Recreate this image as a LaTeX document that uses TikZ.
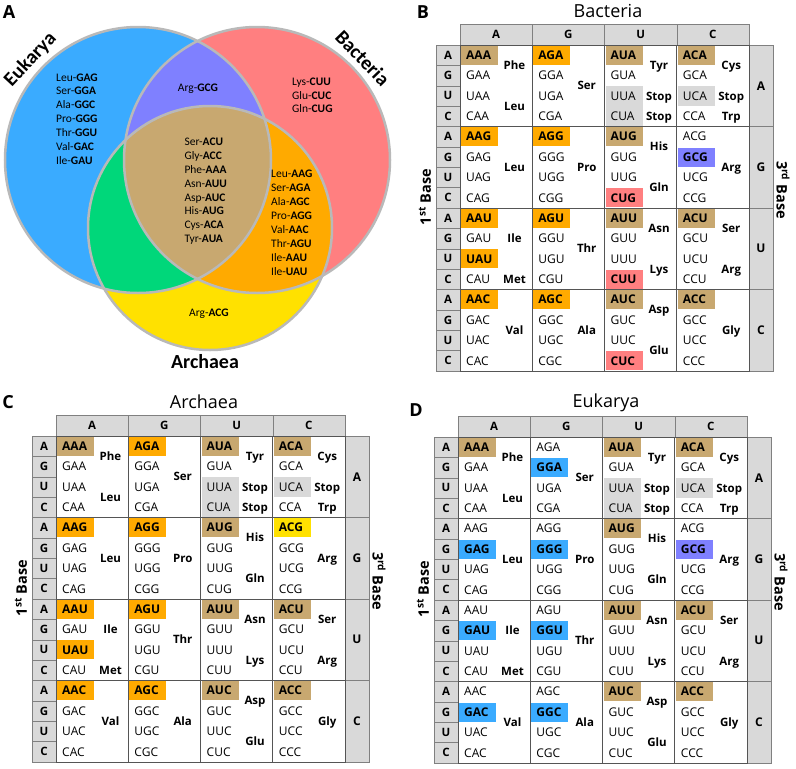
\documentclass[tikz,border=0pt]{standalone}
\usepackage{fontspec}
\setmainfont{Open Sans}
\newfontfamily\vennfont{Carlito}
\definecolor{vblue}{HTML}{3AABFF}
\definecolor{vred}{HTML}{FF7F80}
\definecolor{vyellow}{HTML}{FFE100}
\definecolor{vpurple}{HTML}{7F80FF}
\definecolor{vgreen}{HTML}{00D77A}
\definecolor{vorange}{HTML}{FFAA00}
\definecolor{vtan}{HTML}{C8A870}
\definecolor{cellgray}{HTML}{D9D9D9}
\definecolor{linegray}{HTML}{555555}
\newcommand\cdnfont{\fontsize{12}{14}\selectfont}
\newcommand\cw{72.25}
\newcommand\rh{20.375}
\tikzset{
  vring/.style={draw=gray!55, line width=2.5pt},
  venntxt/.style={inner sep=0pt, text height=7.4pt, text depth=0pt, font={\vennfont\fontsize{11.5}{13}\selectfont}},
  vennlabel/.style={inner sep=0pt, font={\vennfont\fontsize{20}{22}\selectfont\bfseries}},
  panel/.style={inner sep=0pt, font={\fontsize{18}{20}\selectfont\bfseries}},
  tabtitle/.style={inner sep=0pt, font={\fontsize{18}{20}\selectfont}},
  headcell/.style={draw=gray, fill=cellgray, minimum width=72.25pt, minimum height=21pt, inner sep=0pt, font={\fontsize{11.5}{13}\selectfont\bfseries}},
  thirdcell/.style={draw=gray, fill=cellgray, minimum width=24pt, minimum height=81.5pt, inner sep=0pt, font={\fontsize{12}{14}\selectfont\bfseries}},
  firstcell/.style={draw=gray, fill=cellgray, minimum width=24pt, minimum height=20.375pt, inner sep=0pt, font={\fontsize{11.5}{13}\selectfont\bfseries}},
  codon/.style={anchor=west, inner sep=0pt, text height=8.6pt, text depth=0pt, font=\cdnfont},
  hl/.style={anchor=west, text width=27pt, inner xsep=5pt, inner ysep=0pt, minimum height=19pt, align=left, text height=8.6pt, text depth=0pt, font=\cdnfont\bfseries},
  amino/.style={inner sep=0pt, text height=8.2pt, text depth=0pt, font={\fontsize{11.5}{13}\selectfont\bfseries}},
  stopbox/.style={fill=cellgray},
  gridline/.style={draw=linegray, line width=0.9pt},
  baselabel/.style={inner sep=0pt, font={\fontsize{14.5}{16}\selectfont\bfseries}}
}
% one codon table: #1 shift, #2 title, #3 name prefix, #4 highlighted codons
\newcommand\codontable[4]{%
\begin{scope}[shift={#1}]
  \node[tabtitle] (#3-title) at (148,-34) {#2};
  % 2nd base header
  \foreach \s [count=\i from 0] in {A,G,U,C}
    \node[headcell] (#3-head-\s) at ({(\i+0.5)*\cw}, -10.5) {\s};
  % 3rd base column
  \foreach \t [count=\k from 0] in {A,G,U,C}
    \node[thirdcell] (#3-third-\t) at (301, {(\k+0.5)*4*\rh}) {\t};
  % stop codons
  \fill[stopbox] ({2*\cw+1}, {2*\rh+0.5}) rectangle ({2*\cw+38}, {4*\rh-0.5});
  \fill[stopbox] ({3*\cw+1}, {2*\rh+0.5}) rectangle ({3*\cw+38}, {3*\rh-0.5});
  % highlighted codons
  \foreach \c/\col in {#4}
    \expandafter\xdef\csname hlcol#3\c\endcsname{\col};
  % codons
  \foreach \t [count=\k from 0] in {A,G,U,C}
    \foreach \f [count=\j from 0] in {A,G,U,C} {
      \node[firstcell] (#3-first-\f\t) at (-12, {(\k*4+\j+0.5)*\rh}) {\f};
      \foreach \s [count=\i from 0] in {A,G,U,C} {
        \ifcsname hlcol#3\f\s\t\endcsname
          \edef\hlc{\csname hlcol#3\f\s\t\endcsname}
          \node[hl, fill=\hlc] (#3-\f\s\t) at ({\i*\cw+1}, {(\k*4+\j+0.5)*\rh}) {\f\s\t};
        \else
          \node[codon] (#3-\f\s\t) at ({\i*\cw+6}, {(\k*4+\j+0.5)*\rh}) {\f\s\t};
        \fi
      }
    }
  % grid
  \draw[gridline] (0,0) rectangle ({4*\cw}, {16*\rh});
  \foreach \i in {1,2,3} {
    \draw[gridline] ({\i*\cw},0) -- ({\i*\cw},{16*\rh});
    \draw[gridline] (0,{\i*4*\rh}) -- ({4*\cw},{\i*4*\rh});
  }
  % amino acids
  \foreach \i/\k/\p/\acid [count=\n] in {0/0/1/Phe, 0/0/3/Leu, 1/0/2/Ser, 2/0/1/Tyr, 2/0/2.5/Stop, 2/0/3.5/Stop, 3/0/1/Cys, 3/0/2.5/Stop, 3/0/3.5/Trp,
      0/1/2/Leu, 1/1/2/Pro, 2/1/1/His, 2/1/3/Gln, 3/1/2/Arg,
      0/2/1.5/Ile, 0/2/3.5/Met, 1/2/2/Thr, 2/2/1/Asn, 2/2/3/Lys, 3/2/1/Ser, 3/2/3/Arg,
      0/3/2/Val, 1/3/2/Ala, 2/3/1/Asp, 2/3/3/Glu, 3/3/2/Gly}
    \node[amino] (#3-aa-\n) at ({\i*\cw+54.5}, {(\k*4+\p)*\rh}) {\acid};
  \node[baselabel, rotate=90] (#3-firstlabel) at (-35,152) {1\textsuperscript{st} Base};
  \node[baselabel, rotate=-90] (#3-thirdlabel) at (323,145) {3\textsuperscript{rd} Base};
\end{scope}}

\begin{document}
\begin{tikzpicture}[x=1pt, y=-1pt]
\useasboundingbox (0,0) rectangle (796,769);
% A: Venn diagram
\node[panel] (A) at (9,12) {A};
\coordinate (eukc) at (138,160);
\coordinate (bacc) at (257,160);
\coordinate (arcc) at (210,228);
\fill[vblue] (eukc) circle[radius=133pt];
\fill[vred] (bacc) circle[radius=133pt];
\fill[vyellow] (arcc) circle[radius=122pt];
\begin{scope}
  \clip (eukc) circle[radius=133pt];
  \fill[vpurple] (bacc) circle[radius=133pt];
  \fill[vgreen] (arcc) circle[radius=122pt];
\end{scope}
\begin{scope}
  \clip (bacc) circle[radius=133pt];
  \fill[vorange] (arcc) circle[radius=122pt];
  \clip (eukc) circle[radius=133pt];
  \fill[vtan] (arcc) circle[radius=122pt];
\end{scope}
\draw[vring] (eukc) circle[radius=133pt];
\draw[vring] (bacc) circle[radius=133pt];
\draw[vring] (arcc) circle[radius=122pt];
\node[vennlabel, rotate=47] (euk-label) at (30.5,60) {Eukarya};
\node[vennlabel, rotate=-46] (bac-label) at (362.7,58) {Bacteria};
\node[vennlabel] (arc-label) at (205,362) {Archaea};
\foreach \acid/\trip [count=\n from 0] in {Leu/GAG, Ser/GGA, Ala/GGC, Pro/GGG, Thr/GGU, Val/GAC, Ile/GAU}
  \node[venntxt, anchor=west] (euk-\n) at (56, {77.3+\n*13.9}) {\acid-\textbf{\trip}};
\foreach \acid/\trip [count=\n from 0] in {Lys/CUU, Glu/CUC, Gln/CUG}
  \node[venntxt, anchor=west] (bac-\n) at (292, {81.7+\n*13.7}) {\acid-\textbf{\trip}};
\foreach \acid/\trip [count=\n from 0] in {Ser/ACU, Gly/ACC, Phe/AAA, Asn/AUU, Asp/AUC, His/AUG, Cys/ACA, Tyr/AUA}
  \node[venntxt, anchor=west] (all-\n) at (184.3, {141.7+\n*13.9}) {\acid-\textbf{\trip}};
\foreach \acid/\trip [count=\n from 0] in {Leu/AAG, Ser/AGA, Ala/AGC, Pro/AGG, Val/AAC, Thr/AGU, Ile/AAU, Ile/UAU}
  \node[venntxt, anchor=west] (ba-\n) at (271, {174+\n*13.9}) {\acid-\textbf{\trip}};
\node[venntxt] (eb-0) at (198,87.3) {Arg-\textbf{GCG}};
\node[venntxt] (arc-0) at (209,312.7) {Arg-\textbf{ACG}};
% B, C, D: codon tables
\node[panel] (B) at (423,12) {B};
\codontable{(460,45)}{Bacteria}{B}{AAA/vtan, AUA/vtan, ACA/vtan, AUG/vtan, AUU/vtan, ACU/vtan, AUC/vtan, ACC/vtan,
  AGA/vorange, AAG/vorange, AGG/vorange, AAU/vorange, UAU/vorange, AGU/vorange, AAC/vorange, AGC/vorange,
  CUG/vred, CUU/vred, CUC/vred, GCG/vpurple}
\node[panel] (C) at (8,402) {C};
\codontable{(56,436)}{Archaea}{C}{AAA/vtan, AUA/vtan, ACA/vtan, AUG/vtan, AUU/vtan, ACU/vtan, AUC/vtan, ACC/vtan,
  AGA/vorange, AAG/vorange, AGG/vorange, AAU/vorange, UAU/vorange, AGU/vorange, AAC/vorange, AGC/vorange,
  ACG/vyellow}
\node[panel] (D) at (416,410) {D};
\codontable{(458,437)}{Eukarya}{D}{AAA/vtan, AUA/vtan, ACA/vtan, AUG/vtan, AUU/vtan, ACU/vtan, AUC/vtan, ACC/vtan,
  GGA/vblue, GAG/vblue, GGG/vblue, GAU/vblue, GGU/vblue, GAC/vblue, GGC/vblue, GCG/vpurple}
\end{tikzpicture}
\end{document}
